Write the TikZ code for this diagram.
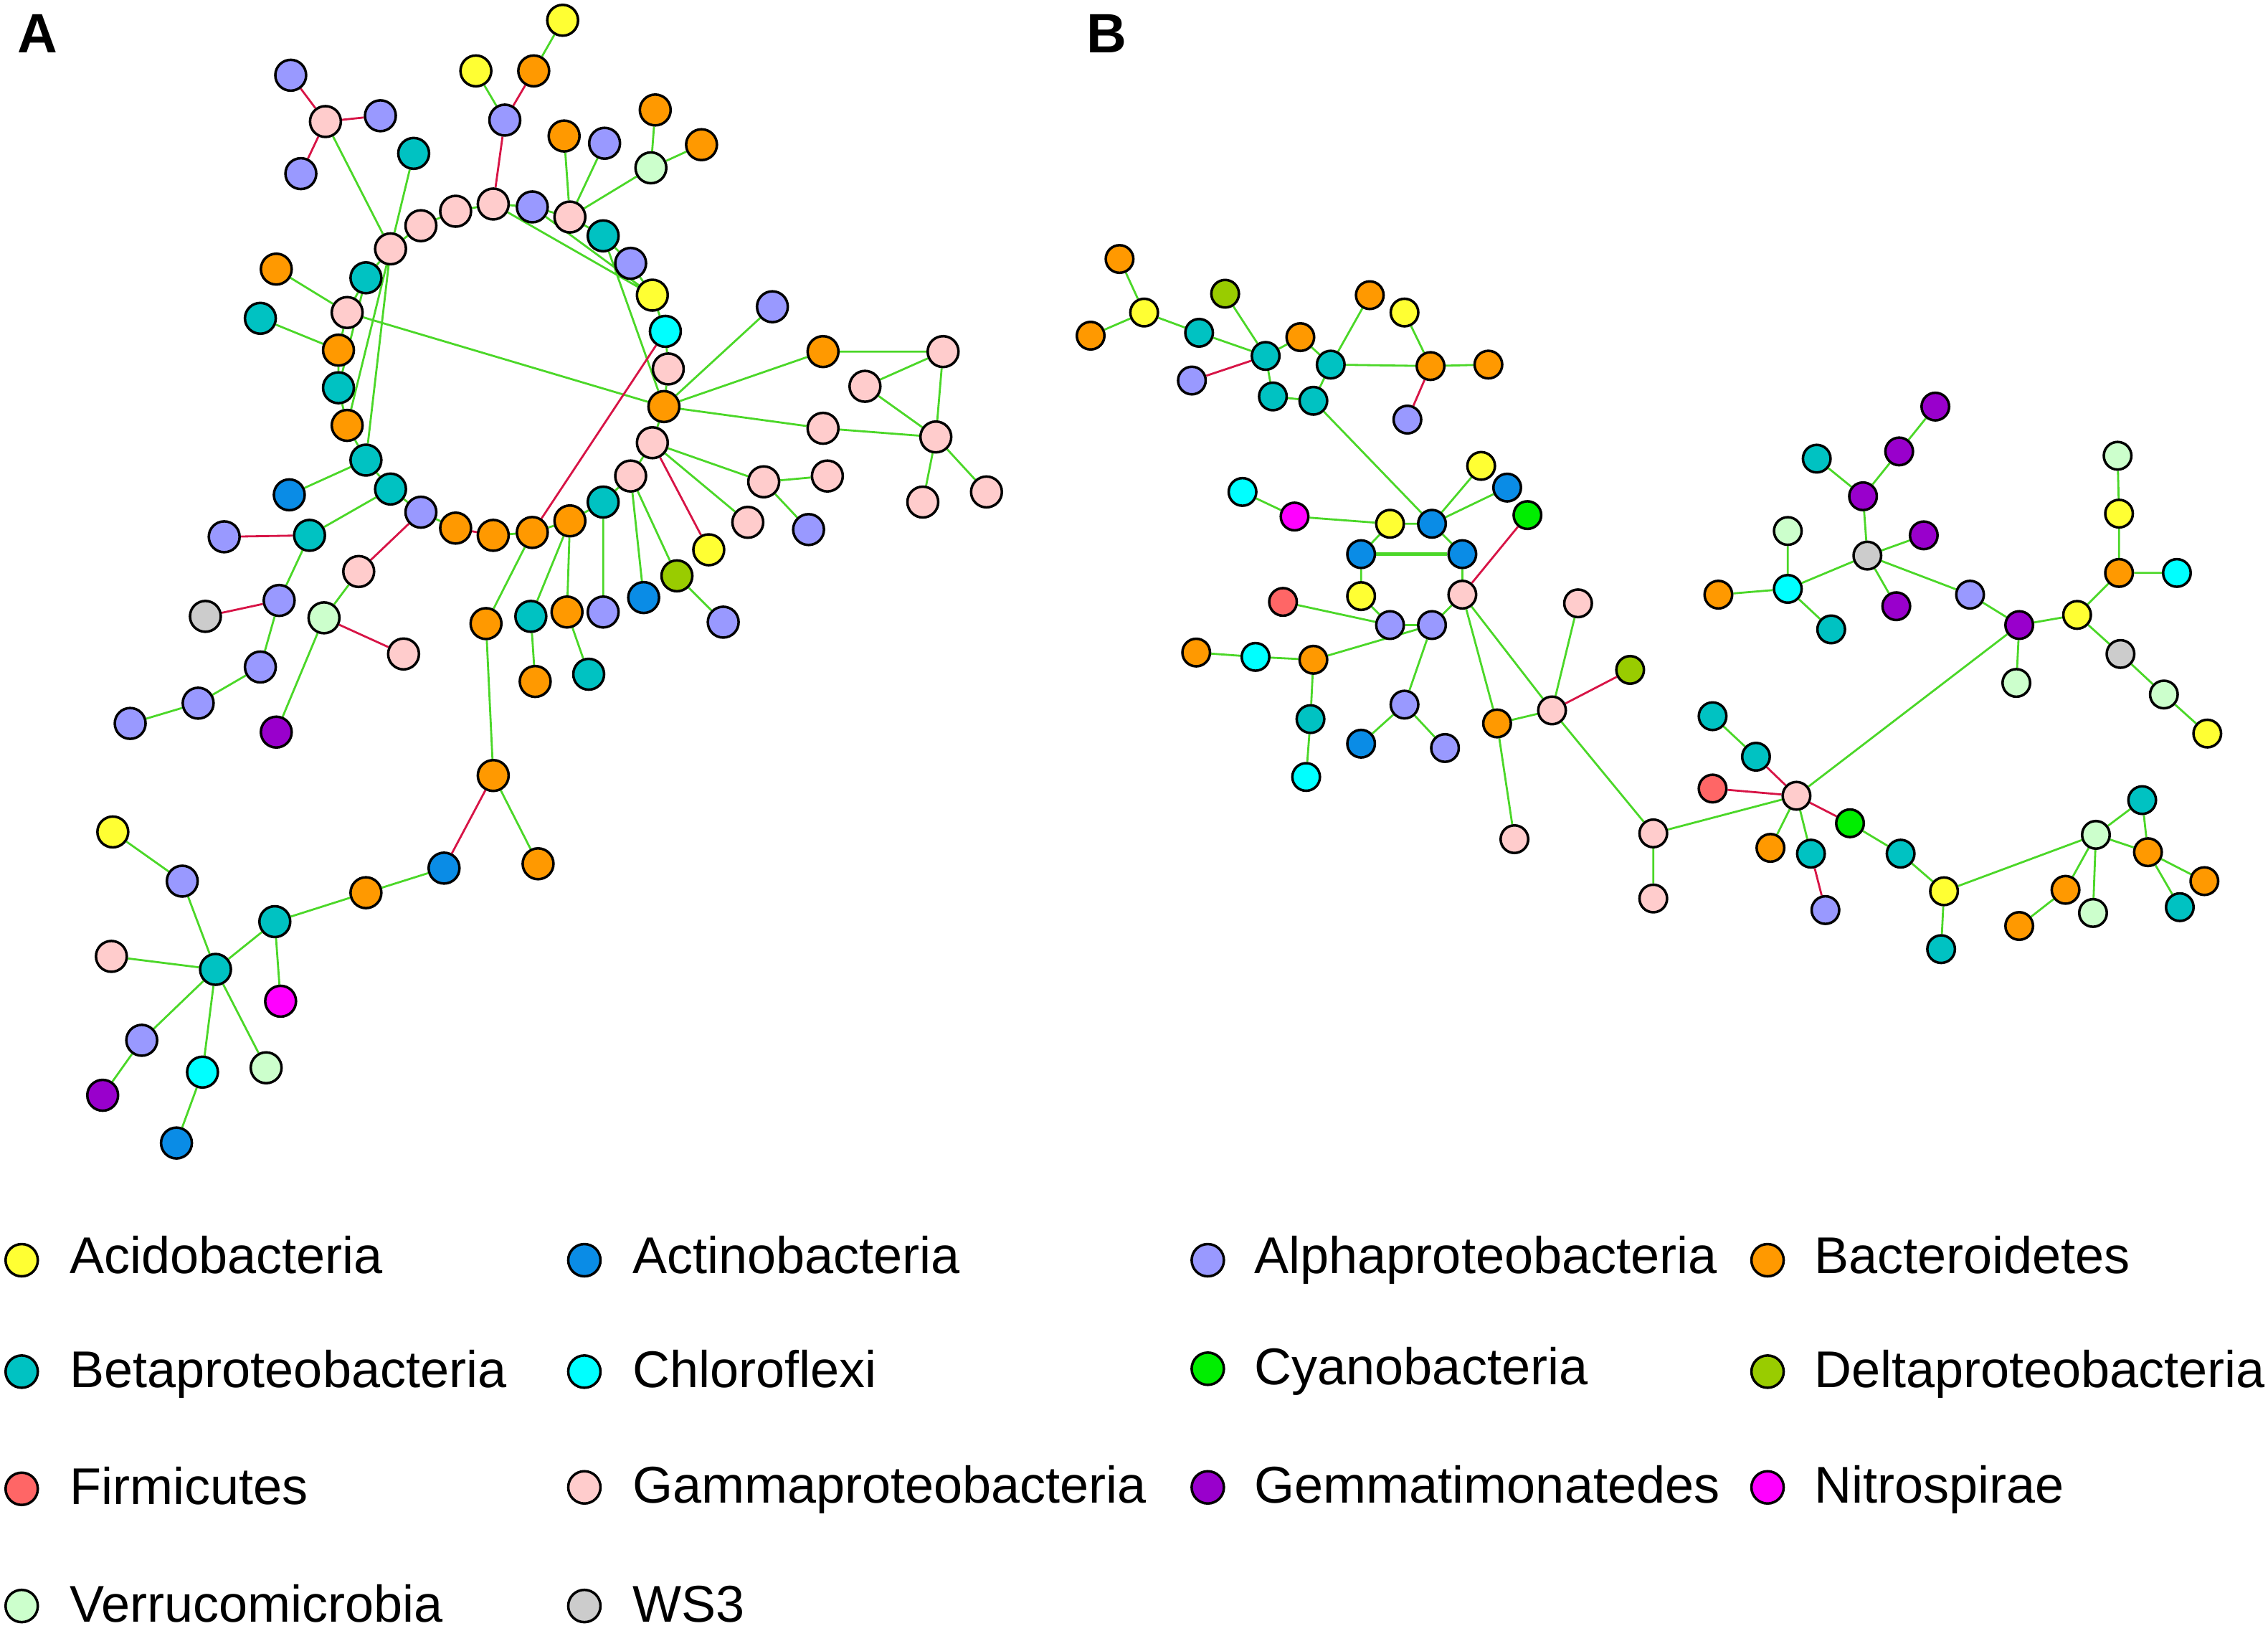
\documentclass[tikz,border=0pt]{standalone}
\usepackage{fontspec}
\setmainfont{Liberation Sans}
\usetikzlibrary{backgrounds}
\definecolor{cAci}{RGB}{255,255,51}
\definecolor{cAct}{RGB}{10,140,230}
\definecolor{cAlp}{RGB}{153,153,255}
\definecolor{cBac}{RGB}{255,153,0}
\definecolor{cBet}{RGB}{0,194,194}
\definecolor{cChl}{RGB}{0,255,255}
\definecolor{cCya}{RGB}{0,238,0}
\definecolor{cDel}{RGB}{153,204,0}
\definecolor{cFir}{RGB}{255,102,102}
\definecolor{cGam}{RGB}{255,204,204}
\definecolor{cGem}{RGB}{153,0,204}
\definecolor{cNit}{RGB}{255,0,255}
\definecolor{cVer}{RGB}{204,255,204}
\definecolor{cWs}{RGB}{204,204,204}
\definecolor{cPlus}{RGB}{75,215,40}
\definecolor{cMinus}{RGB}{215,20,70}
\begin{document}
\begin{tikzpicture}[x=0.02017cm,y=-0.02017cm,
	v/.style={circle,draw=black,line width=1pt,inner sep=0pt,minimum size=4.3mm},
	Aci/.style={fill=cAci},Act/.style={fill=cAct},Alp/.style={fill=cAlp},
	Bac/.style={fill=cBac},Bet/.style={fill=cBet},Chl/.style={fill=cChl},
	Cya/.style={fill=cCya},Del/.style={fill=cDel},Fir/.style={fill=cFir},
	Gam/.style={fill=cGam},Gem/.style={fill=cGem},Nit/.style={fill=cNit},
	Ver/.style={fill=cVer},Ws/.style={fill=cWs},
	plink/.style={draw=cPlus,line width=0.8pt},
	nlink/.style={draw=cMinus,line width=0.8pt},
	lg/.style={circle,draw=black,line width=1pt,inner sep=0pt,minimum size=4.5mm},
	lt/.style={anchor=base west,inner sep=0pt,font=\fontsize{20.5}{24}\selectfont},
	panel/.style={font=\bfseries\fontsize{22}{26}\selectfont,inner sep=0pt}]
	\useasboundingbox (0,0) rectangle (1568,1127);
	\node[panel] (labA) at (26,23) {A};
	\node[panel] (labB) at (765,23) {B};

	% panel A
	\node[v,Gam] (p1) at (225,84) {};
	\node[v,Alp] (p2) at (201,52) {};
	\node[v,Alp] (p3) at (263,80) {};
	\node[v,Alp] (p4) at (208,120) {};
	\node[v,Bet] (p5) at (286,106) {};
	\node[v,Alp] (q1) at (349,83) {};
	\node[v,Aci] (q2) at (329,49) {};
	\node[v,Bac] (q3) at (369,49) {};
	\node[v,Aci] (q4) at (389,14) {};
	\node[v,Bac] (q5) at (390,94) {};
	\node[v,Alp] (q6) at (418,99) {};
	\node[v,Ver] (q7) at (450,116) {};
	\node[v,Bac] (q8) at (453,76) {};
	\node[v,Bac] (q9) at (485,100) {};
	\node[v,Gam] (r1) at (270,172) {};
	\node[v,Gam] (r2) at (291,156) {};
	\node[v,Gam] (r3) at (315,146) {};
	\node[v,Gam] (r4) at (341,141) {};
	\node[v,Alp] (r5) at (368,143) {};
	\node[v,Gam] (r6) at (394,150) {};
	\node[v,Bet] (r7) at (417,163) {};
	\node[v,Alp] (r8) at (436,182) {};
	\node[v,Aci] (r9) at (451,204) {};
	\node[v,Chl] (r10) at (460,229) {};
	\node[v,Gam] (r11) at (462,255) {};
	\node[v,Bac] (r12) at (459,281) {};
	\node[v,Gam] (r13) at (451,306) {};
	\node[v,Gam] (r14) at (436,329) {};
	\node[v,Bet] (r15) at (417,347) {};
	\node[v,Bac] (r16) at (394,360) {};
	\node[v,Bac] (r17) at (368,368) {};
	\node[v,Bac] (r18) at (341,370) {};
	\node[v,Bac] (r19) at (315,365) {};
	\node[v,Alp] (r20) at (291,354) {};
	\node[v,Bet] (r21) at (270,338) {};
	\node[v,Bet] (r22) at (253,318) {};
	\node[v,Bac] (r23) at (240,294) {};
	\node[v,Bet] (r24) at (234,268) {};
	\node[v,Bac] (r25) at (234,242) {};
	\node[v,Gam] (r26) at (240,216) {};
	\node[v,Bet] (r27) at (253,192) {};
	\node[v,Alp] (s1) at (534,212) {};
	\node[v,Bac] (s2) at (569,243) {};
	\node[v,Gam] (s3) at (652,243) {};
	\node[v,Gam] (s4) at (598,267) {};
	\node[v,Gam] (s5) at (569,296) {};
	\node[v,Gam] (s6) at (647,302) {};
	\node[v,Gam] (s7) at (638,347) {};
	\node[v,Gam] (s8) at (682,340) {};
	\node[v,Gam] (t1) at (528,333) {};
	\node[v,Gam] (t2) at (572,329) {};
	\node[v,Alp] (t3) at (559,366) {};
	\node[v,Gam] (t4) at (517,361) {};
	\node[v,Aci] (t5) at (490,380) {};
	\node[v,Del] (t6) at (468,398) {};
	\node[v,Act] (t7) at (445,413) {};
	\node[v,Alp] (t8) at (500,430) {};
	\node[v,Alp] (t9) at (417,423) {};
	\node[v,Bet] (t10) at (367,426) {};
	\node[v,Bac] (t11) at (392,423) {};
	\node[v,Bet] (t12) at (407,466) {};
	\node[v,Bac] (t13) at (370,471) {};
	\node[v,Bac] (t14) at (336,431) {};
	\node[v,Bac] (u1) at (191,186) {};
	\node[v,Bet] (u2) at (180,220) {};
	\node[v,Act] (u3) at (200,342) {};
	\node[v,Bet] (u4) at (214,370) {};
	\node[v,Alp] (u5) at (155,371) {};
	\node[v,Alp] (u6) at (193,415) {};
	\node[v,Ws] (u7) at (142,426) {};
	\node[v,Alp] (u8) at (180,461) {};
	\node[v,Alp] (u9) at (137,486) {};
	\node[v,Alp] (u10) at (90,500) {};
	\node[v,Gam] (u11) at (248,395) {};
	\node[v,Ver] (u12) at (224,427) {};
	\node[v,Gam] (u13) at (279,452) {};
	\node[v,Gem] (u14) at (191,506) {};
	\node[v,Bac] (w1) at (341,536) {};
	\node[v,Act] (w2) at (307,600) {};
	\node[v,Bac] (w3) at (372,597) {};
	\node[v,Bac] (w4) at (253,617) {};
	\node[v,Bet] (w5) at (190,637) {};
	\node[v,Nit] (w6) at (194,692) {};
	\node[v,Bet] (w7) at (149,670) {};
	\node[v,Alp] (w8) at (126,609) {};
	\node[v,Aci] (w9) at (78,575) {};
	\node[v,Gam] (w10) at (77,661) {};
	\node[v,Alp] (w11) at (98,719) {};
	\node[v,Gem] (w12) at (71,757) {};
	\node[v,Chl] (w13) at (140,741) {};
	\node[v,Act] (w14) at (122,790) {};
	\node[v,Ver] (w15) at (184,738) {};

	% panel B
	\begin{scope}[v/.append style={minimum size=3.85mm}]
	\node[v,Bac] (b1) at (774,179) {};
	\node[v,Aci] (b2) at (791,216) {};
	\node[v,Bac] (b3) at (754,232) {};
	\node[v,Bet] (b4) at (829,230) {};
	\node[v,Del] (b5) at (847,203) {};
	\node[v,Bet] (b6) at (875,246) {};
	\node[v,Alp] (b7) at (824,263) {};
	\node[v,Bac] (b8) at (899,233) {};
	\node[v,Bet] (b9) at (920,252) {};
	\node[v,Bac] (b10) at (947,204) {};
	\node[v,Aci] (b11) at (971,216) {};
	\node[v,Bac] (b12) at (989,253) {};
	\node[v,Bac] (b13) at (1029,252) {};
	\node[v,Alp] (b14) at (973,290) {};
	\node[v,Bet] (b15) at (880,274) {};
	\node[v,Bet] (b16) at (908,277) {};
	\node[v,Aci] (c1) at (1024,322) {};
	\node[v,Act] (c2) at (1042,337) {};
	\node[v,Cya] (c3) at (1056,356) {};
	\node[v,Chl] (c4) at (859,340) {};
	\node[v,Nit] (c5) at (895,357) {};
	\node[v,Aci] (c6) at (961,362) {};
	\node[v,Act] (c7) at (990,362) {};
	\node[v,Act] (c8) at (941,383) {};
	\node[v,Act] (c9) at (1011,383) {};
	\node[v,Aci] (c10) at (941,412) {};
	\node[v,Gam] (c11) at (1011,411) {};
	\node[v,Fir] (c12) at (887,416) {};
	\node[v,Alp] (c13) at (961,432) {};
	\node[v,Alp] (c14) at (990,432) {};
	\node[v,Gam] (c15) at (1091,417) {};
	\node[v,Bac] (c16) at (827,451) {};
	\node[v,Chl] (c17) at (868,454) {};
	\node[v,Bac] (c18) at (908,456) {};
	\node[v,Bet] (c19) at (906,497) {};
	\node[v,Chl] (c20) at (903,537) {};
	\node[v,Alp] (c21) at (971,487) {};
	\node[v,Act] (c22) at (941,514) {};
	\node[v,Alp] (c23) at (999,517) {};
	\node[v,Bac] (c24) at (1035,500) {};
	\node[v,Gam] (c25) at (1073,491) {};
	\node[v,Del] (c26) at (1127,463) {};
	\node[v,Gam] (c27) at (1047,580) {};
	\node[v,Gam] (c28) at (1143,576) {};
	\node[v,Gam] (c29) at (1143,621) {};
	\node[v,Gem] (d1) at (1338,281) {};
	\node[v,Gem] (d2) at (1313,312) {};
	\node[v,Bet] (d3) at (1256,317) {};
	\node[v,Gem] (d4) at (1288,343) {};
	\node[v,Ver] (d5) at (1236,367) {};
	\node[v,Gem] (d6) at (1330,370) {};
	\node[v,Ws] (d7) at (1291,384) {};
	\node[v,Bac] (d8) at (1188,411) {};
	\node[v,Chl] (d9) at (1236,407) {};
	\node[v,Bet] (d10) at (1266,435) {};
	\node[v,Gem] (d11) at (1311,419) {};
	\node[v,Alp] (d12) at (1362,411) {};
	\node[v,Gem] (d13) at (1396,432) {};
	\node[v,Ver] (d14) at (1394,472) {};
	\node[v,Aci] (d15) at (1436,425) {};
	\node[v,Bac] (d16) at (1465,396) {};
	\node[v,Chl] (d17) at (1505,396) {};
	\node[v,Aci] (d18) at (1465,355) {};
	\node[v,Ver] (d19) at (1464,315) {};
	\node[v,Ws] (d20) at (1466,452) {};
	\node[v,Ver] (d21) at (1496,480) {};
	\node[v,Aci] (d22) at (1526,507) {};
	\node[v,Bet] (e1) at (1184,495) {};
	\node[v,Bet] (e2) at (1214,523) {};
	\node[v,Fir] (e3) at (1184,545) {};
	\node[v,Gam] (e4) at (1242,550) {};
	\node[v,Cya] (e5) at (1279,569) {};
	\node[v,Bac] (e6) at (1224,586) {};
	\node[v,Bet] (e7) at (1252,590) {};
	\node[v,Alp] (e8) at (1262,629) {};
	\node[v,Bet] (e9) at (1314,590) {};
	\node[v,Aci] (e10) at (1344,616) {};
	\node[v,Bet] (e11) at (1342,656) {};
	\node[v,Ver] (e12) at (1449,577) {};
	\node[v,Bet] (e13) at (1481,553) {};
	\node[v,Bac] (e14) at (1485,589) {};
	\node[v,Bac] (e15) at (1524,609) {};
	\node[v,Bet] (e16) at (1507,627) {};
	\node[v,Bac] (e17) at (1428,615) {};
	\node[v,Bac] (e18) at (1396,640) {};
	\node[v,Ver] (e19) at (1447,631) {};
	\end{scope}

	\begin{scope}[on background layer]
	\draw[plink] (p1)--(r1) (p5)--(r1) (q1)--(q2) (q3)--(q4) (r6)--(q5) (r6)--(q6) (r6)--(q7)
		(q7)--(q8) (q7)--(q9);
	\draw[plink] (r1)--(r2)--(r3)--(r4)--(r5)--(r6)--(r7)--(r8)--(r9)--(r10)--(r11)--(r12)
		--(r13)--(r14)--(r15)--(r16)--(r17)--(r18) (r19)--(r20)--(r21)--(r22)--(r23)--(r24)
		--(r25)--(r26)--(r27)--(r1);
	\draw[plink] (r26)--(r12) (r4)--(r9) (r5)--(r9) (r7)--(r12) (r12)--(s1) (r12)--(s2)
		(r12)--(s5) (s2)--(s3) (s3)--(s4) (s3)--(s6) (s4)--(s6) (s5)--(s6) (s6)--(s7) (s6)--(s8);
	\draw[plink] (r13)--(t1) (r13)--(t4) (t1)--(t2) (t1)--(t3) (r14)--(t6) (r14)--(t7) (t6)--(t8)
		(r15)--(t9) (r16)--(t10) (r16)--(t11) (t11)--(t12) (t10)--(t13) (r17)--(t14) (t14)--(w1);
	\draw[plink] (u1)--(r26) (u2)--(r25) (r1)--(r22) (r1)--(r23) (r27)--(r24) (r22)--(u3)
		(r21)--(u4) (u4)--(u6) (u6)--(u8) (u8)--(u9) (u9)--(u10) (u11)--(u12) (u12)--(u14);
	\draw[plink] (w1)--(w3) (w2)--(w4) (w4)--(w5) (w5)--(w6) (w5)--(w7) (w7)--(w8) (w8)--(w9)
		(w7)--(w10) (w7)--(w11) (w11)--(w12) (w7)--(w13) (w13)--(w14) (w7)--(w15);
	\draw[nlink] (p1)--(p2) (p1)--(p3) (p1)--(p4) (r4)--(q1) (q1)--(q3) (r19)--(r18) (r10)--(r17)
		(r13)--(t5) (u4)--(u5) (u6)--(u7) (r20)--(u11) (u12)--(u13) (w1)--(w2);

	\draw[plink] (b1)--(b2) (b2)--(b3) (b2)--(b4) (b4)--(b6) (b5)--(b6) (b6)--(b8) (b8)--(b9)
		(b6)--(b15) (b15)--(b16) (b16)--(b9) (b9)--(b10) (b9)--(b12) (b12)--(b11) (b12)--(b13)
		(b16)--(c7);
	\draw[plink] (c4)--(c5) (c5)--(c6) (c6)--(c7) (c7)--(c1) (c7)--(c2) (c6)--(c8) (c7)--(c9)
		(c8)--(c10) (c9)--(c11) (c10)--(c13) (c12)--(c13) (c13)--(c14) (c14)--(c11) (c16)--(c17)
		(c17)--(c18) (c18)--(c14) (c18)--(c19) (c19)--(c20) (c14)--(c21) (c21)--(c22) (c21)--(c23)
		(c11)--(c24) (c11)--(c25) (c24)--(c25) (c24)--(c27) (c25)--(c15) (c25)--(c28) (c28)--(c29)
		(c28)--(e4);
	\draw[plink,line width=1.4pt] (c8)--(c9);
	\draw[plink] (d1)--(d2) (d2)--(d4) (d3)--(d4) (d4)--(d7) (d7)--(d6) (d7)--(d9) (d7)--(d11)
		(d7)--(d12) (d9)--(d5) (d9)--(d8) (d9)--(d10) (d12)--(d13) (d13)--(d14) (d13)--(d15)
		(d15)--(d16) (d16)--(d17) (d16)--(d18) (d18)--(d19) (d15)--(d20) (d20)--(d21) (d21)--(d22)
		(d13)--(e4);
	\draw[plink] (e1)--(e2) (e4)--(e6) (e4)--(e7) (e5)--(e9) (e9)--(e10) (e10)--(e11) (e10)--(e12)
		(e12)--(e13) (e12)--(e14) (e13)--(e14) (e14)--(e15) (e14)--(e16) (e12)--(e17) (e17)--(e18)
		(e12)--(e19);
	\draw[nlink] (b6)--(b7) (b12)--(b14) (c11)--(c3) (c25)--(c26) (e2)--(e4) (e3)--(e4) (e4)--(e5)
		(e7)--(e8);
	\end{scope}

	% legend
	\node[lg,Aci] (k1) at (15,871) {};
	\node[lt] (k1t) at (48,880) {Acidobacteria};
	\node[lg,Act] (k2) at (404,871) {};
	\node[lt] (k2t) at (437,880) {Actinobacteria};
	\node[lg,Alp] (k3) at (835,871) {};
	\node[lt] (k3t) at (867,880) {Alphaproteobacteria};
	\node[lg,Bac] (k4) at (1222,871) {};
	\node[lt] (k4t) at (1254,880) {Bacteroidetes};
	\node[lg,Bet] (k5) at (15,948) {};
	\node[lt] (k5t) at (48,959) {Betaproteobacteria};
	\node[lg,Chl] (k6) at (404,948) {};
	\node[lt] (k6t) at (437,959) {Chloroflexi};
	\node[lg,Cya] (k7) at (835,946) {};
	\node[lt] (k7t) at (867,957) {Cyanobacteria};
	\node[lg,Del] (k8) at (1222,948) {};
	\node[lt] (k8t) at (1254,959) {Deltaproteobacteria};
	\node[lg,Fir] (k9) at (15,1029) {};
	\node[lt] (k9t) at (48,1040) {Firmicutes};
	\node[lg,Gam] (k10) at (404,1028) {};
	\node[lt] (k10t) at (437,1039) {Gammaproteobacteria};
	\node[lg,Gem] (k11) at (835,1028) {};
	\node[lt] (k11t) at (867,1039) {Gemmatimonatedes};
	\node[lg,Nit] (k12) at (1222,1028) {};
	\node[lt] (k12t) at (1254,1039) {Nitrospirae};
	\node[lg,Ver] (k13) at (15,1110) {};
	\node[lt] (k13t) at (48,1121) {Verrucomicrobia};
	\node[lg,Ws] (k14) at (404,1110) {};
	\node[lt] (k14t) at (437,1121) {WS3};
\end{tikzpicture}
\end{document}
